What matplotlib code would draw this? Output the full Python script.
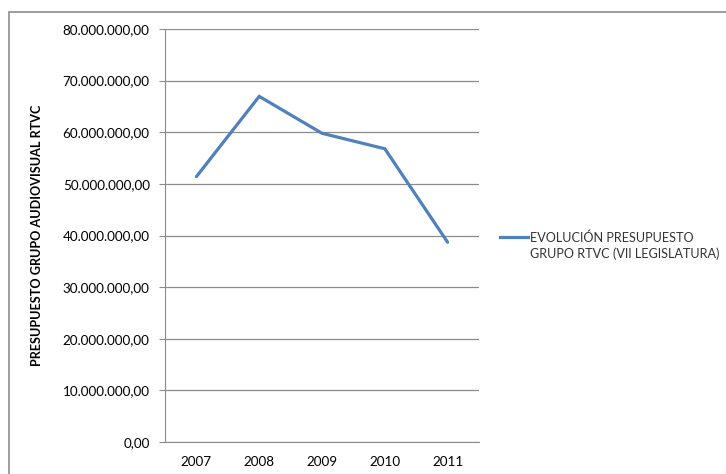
import matplotlib
matplotlib.use("Agg")
import matplotlib.pyplot as plt
from matplotlib.ticker import FuncFormatter, MultipleLocator
from matplotlib.patches import Rectangle
from matplotlib.lines import Line2D

years = ["2007", "2008", "2009", "2010", "2011"]
budget = [51.4e6, 66.95e6, 59.8e6, 56.8e6, 38.7e6]
series_label = "EVOLUCIÓN PRESUPUESTO\nGRUPO RTVC (VII LEGISLATURA)"
y_title = "PRESUPUESTO GRUPO AUDIOVISUAL RTVC"

plt.rcParams['font.family'] = ['Lato', 'DejaVu Sans']

W, H = 726, 474
fig = plt.figure(figsize=(W / 100, H / 100), dpi=100)

def fx(px):
    return px / W

def fy(py):
    return 1 - py / H

# outer chart frame
fig.patches.append(Rectangle((fx(9), fy(490)), fx(760) - fx(9), fy(12.5) - fy(490),
                             transform=fig.transFigure, fill=False,
                             edgecolor="#8c8c8c", linewidth=1.2))

ax = fig.add_axes([fx(165), fy(442), fx(479) - fx(165), fy(29) - fy(442)])
x = list(range(len(years)))
line, = ax.plot(x, budget, color="#4F81BD", linewidth=2.3, solid_capstyle="round",
                solid_joinstyle="miter")
ax.set_xlim(-0.5, len(years) - 0.5)
ax.set_ylim(0, 80e6)
ax.yaxis.set_major_locator(MultipleLocator(10e6))

def fmt(v, pos):
    s = f"{v:,.2f}"
    return s.replace(",", "X").replace(".", ",").replace("X", ".")

ax.yaxis.set_major_formatter(FuncFormatter(fmt))
ax.set_xticks(x)
ax.set_xticklabels(years)
ax.grid(axis="y", color="#8c8c8c", linewidth=0.9)
ax.set_axisbelow(True)
for s in ["top", "right"]:
    ax.spines[s].set_visible(False)
ax.spines["left"].set_color("#8c8c8c")
ax.spines["bottom"].set_color("#8c8c8c")
ax.tick_params(axis="y", length=4, color="#8c8c8c", labelsize=9.7, pad=7, labelcolor="#000000")
ax.tick_params(axis="x", length=0, labelsize=9.7, pad=10, labelcolor="#000000")

fig.text(fx(37), fy(235), y_title, rotation=90, ha="center", va="center",
         fontsize=9.1, fontweight="bold")

# legend
fig.lines.append(Line2D([fx(500), fx(528)], [fy(237), fy(237)], transform=fig.transFigure,
                        color="#4F81BD", linewidth=2.3))
fig.text(fx(530), fy(245.5), series_label, ha="left", va="center", fontsize=9.1,
         color="#333333", linespacing=1.3)

fig.savefig("out.png", dpi=100)
